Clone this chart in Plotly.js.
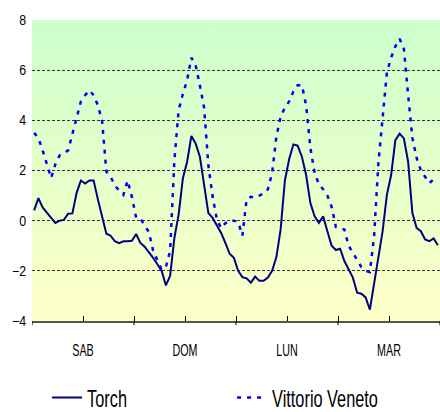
<!DOCTYPE html>
<html>
<head>
<meta charset="utf-8">
<script src="https://cdn.plot.ly/plotly-3.0.1.min.js"></script>
<style>
html,body{margin:0;padding:0;background:#fff;}
#chart{width:440px;height:412px;}
</style>
</head>
<body>
<div id="chart"></div>
<script>
// Day labels (24 hourly points per day)
const days = ['SAB', 'DOM', 'LUN', 'MAR'];
const hoursPerDay = 24;
const yTicks = [-4, -2, 0, 2, 4, 6, 8];

// Torch (hourly values)
const torch = [
  0.41, 0.90, 0.53, 0.30, 0.11, -0.09, 0.00, 0.03, 0.28, 0.29, 1.11, 1.60,
  1.48, 1.60, 1.60, 0.85, 0.20, -0.52, -0.60, -0.82, -0.90, -0.82, -0.82, -0.80,
  -0.53, -0.89, -1.04, -1.24, -1.48, -1.74, -2.00, -2.58, -2.20, -0.69, 0.24, 1.69,
  2.35, 3.38, 3.08, 2.55, 1.43, 0.30, 0.11, -0.22, -0.49, -0.89, -1.32, -1.48,
  -2.00, -2.25, -2.30, -2.47, -2.23, -2.40, -2.40, -2.27, -2.00, -1.45, -0.35, 1.60,
  2.45, 3.04, 2.99, 2.55, 1.82, 0.70, 0.17, -0.09, 0.17, -0.42, -1.00, -1.17,
  -1.12, -1.61, -1.94, -2.27, -2.87, -2.91, -3.06, -3.55, -2.50, -1.40, -0.42, 1.03,
  1.82, 3.21, 3.47, 3.28, 2.35, 0.30, -0.29, -0.42, -0.75, -0.82, -0.71, -0.98
];

// Vittorio Veneto (hourly values)
const vittorio = [
  3.50, 3.30, 2.80, 2.20, 1.70, 2.25, 2.60, 2.70, 2.80, 3.45, 4.14, 4.75,
  5.00, 5.20, 5.00, 4.60, 3.96, 1.95, 1.75, 1.40, 1.20, 1.03, 1.60, 0.95,
  0.12, 0.10, -0.20, -0.45, -1.20, -1.60, -1.95, -1.85, -1.20, 2.40, 4.40, 5.05,
  5.60, 6.50, 6.20, 5.40, 4.50, 2.20, 0.96, 0.05, -0.30, -0.10, 0.00, 0.00,
  -0.05, -0.60, 0.85, 0.95, 0.92, 1.00, 1.08, 1.25, 1.90, 3.35, 4.15, 4.50,
  4.75, 5.15, 5.40, 5.40, 4.60, 2.90, 1.90, 1.45, 1.25, 1.00, 0.55, -0.25,
  -0.30, -0.35, -1.00, -1.30, -1.60, -1.85, -2.00, -2.05, -0.60, 2.30, 4.10, 5.90,
  6.50, 6.95, 7.25, 6.85, 5.00, 3.30, 2.50, 2.00, 1.75, 1.50, 1.65, 1.70
];

const xs = torch.map((_, i) => i);
const nPts = torch.length;

// gradient background image for the plot area
function gradientURL() {
  const c = document.createElement('canvas');
  c.width = 8; c.height = 300;
  const g = c.getContext('2d');
  const grad = g.createLinearGradient(0, 0, 0, 300);
  grad.addColorStop(0, 'rgb(204,255,204)');
  grad.addColorStop(1, 'rgb(255,255,200)');
  g.fillStyle = grad;
  g.fillRect(0, 0, 8, 300);
  return c.toDataURL('image/png');
}

// tick positions: day boundaries and day centres
const tickVals = [], tickText = [];
for (let d = 0; d <= days.length; d++) {
  tickVals.push(d * hoursPerDay - 0.5); tickText.push('');
  if (d < days.length) { tickVals.push(d * hoursPerDay + hoursPerDay / 2 - 0.5); tickText.push(days[d]); }
}
const boundaryShapes = [];
for (let d = 0; d <= days.length; d++) {
  boundaryShapes.push({
    type: 'line', xref: 'x', yref: 'paper',
    x0: d * hoursPerDay - 0.5, x1: d * hoursPerDay - 0.5,
    y0: 0, y1: -0.014,
    line: {color: '#000', width: 1}
  });
}

const fam = '"Liberation Sans", Arial, sans-serif';

const traces = [
  {x: xs, y: torch, name: 'Torch', type: 'scatter', mode: 'lines',
   line: {color: '#000080', width: 2}},
  {x: xs, y: vittorio, name: 'Vittorio Veneto', type: 'scatter', mode: 'lines',
   line: {color: '#0000FF', width: 2.5, dash: '4px,6px'}}
];

const layout = {
  width: 440, height: 412,
  margin: {l: 32, r: 0, t: 20, b: 91, pad: 0},
  paper_bgcolor: '#ffffff',
  plot_bgcolor: 'rgba(0,0,0,0)',
  font: {family: fam, color: '#000'},
  showlegend: true,
  images: [{source: gradientURL(), xref: 'paper', yref: 'paper', x: 0, y: 1,
            sizex: 1, sizey: 1, sizing: 'stretch', xanchor: 'left', yanchor: 'top',
            layer: 'below'}],
  xaxis: {
    range: [-0.5, nPts - 0.5], tickmode: 'array', tickvals: tickVals, ticktext: tickText,
    ticks: 'inside', ticklen: 5, tickcolor: '#000', tickwidth: 1,
    showgrid: false, zeroline: false, showline: true, linecolor: '#555', linewidth: 1.5,
    tickfont: {size: 17, family: fam, color: '#000'}, ticklabelstandoff: 13,
    fixedrange: true
  },
  yaxis: {
    range: [-4, 8], tickmode: 'array', tickvals: yTicks,
    ticks: '', showline: false, zeroline: false,
    showgrid: true, gridcolor: '#333', griddash: '3px,2px', gridwidth: 1,
    tickfont: {size: 14, family: fam, color: '#000'}, ticklabelstandoff: 5,
    fixedrange: true
  },
  shapes: boundaryShapes,
  legend: {
    orientation: 'h', xref: 'container', yref: 'container',
    x: 0.107, xanchor: 'left', y: 0.034, yanchor: 'middle',
    font: {size: 24, family: fam, color: '#000'},
    entrywidth: 140, entrywidthmode: 'pixels', bgcolor: 'rgba(0,0,0,0)'
  }
};

// condense text horizontally (the reference uses a compressed face)
function condense(selector, factor) {
  document.querySelectorAll(selector).forEach(el => {
    const w = el.getComputedTextLength();
    if (w > 0) {
      el.setAttribute('textLength', (w * factor).toFixed(2));
      el.setAttribute('lengthAdjust', 'spacingAndGlyphs');
    }
  });
}

Plotly.newPlot('chart', traces, layout, {staticPlot: true, displayModeBar: false}).then(() => {
  condense('#chart .xtick text', 0.63);
  condense('#chart .ytick text', 0.88);
  condense('#chart .legendtext', 0.68);
});
</script>
</body>
</html>
